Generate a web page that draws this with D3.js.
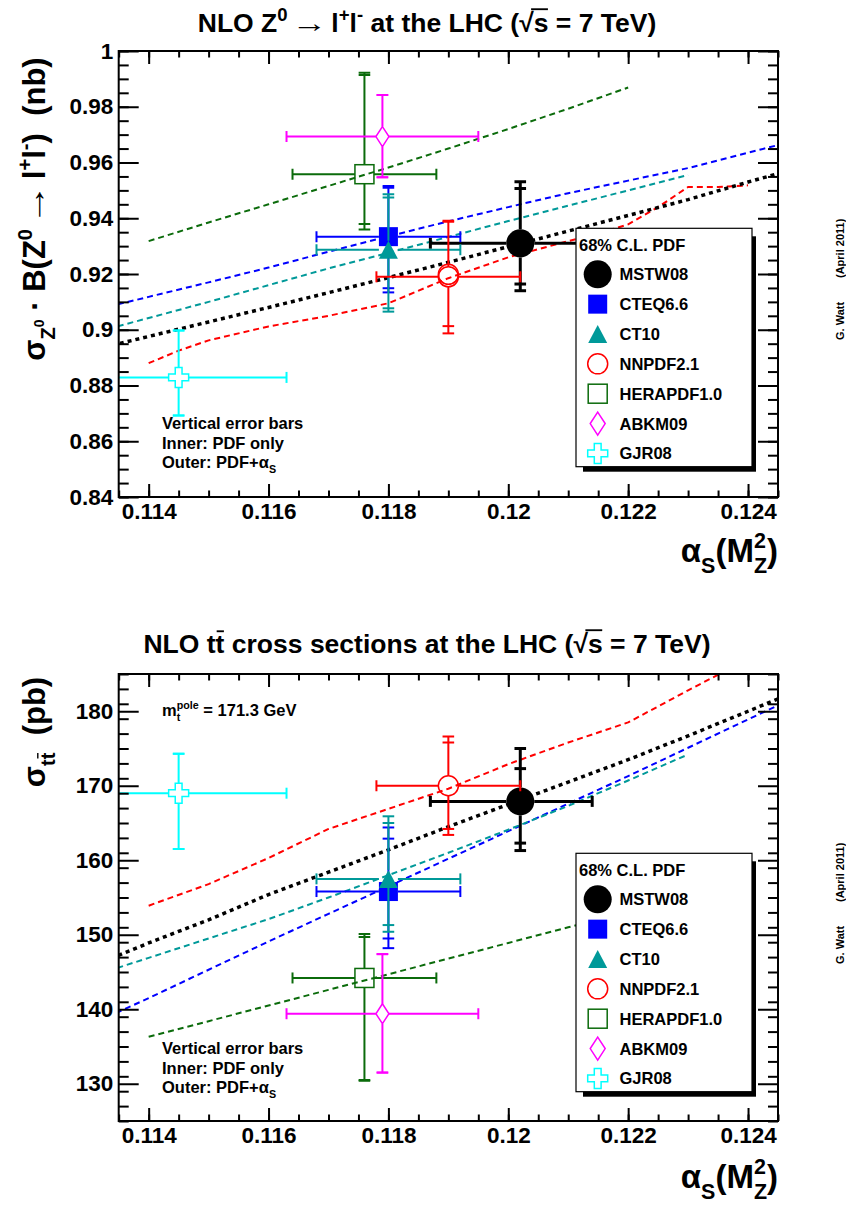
<!DOCTYPE html>
<html><head><meta charset="utf-8">
<script src="https://cdn.jsdelivr.net/npm/d3@7"></script>
<style>
body{margin:0;background:#fff}
text{font-family:"Liberation Sans",Arial,Helvetica,sans-serif;font-weight:bold;white-space:pre}
</style>
</head><body>
<svg id="c" width="846" height="1205" xmlns="http://www.w3.org/2000/svg"></svg>
<script>
// ---------------- DATA ----------------
const pdfNames   = ["MSTW08","CTEQ6.6","CT10","NNPDF2.1","HERAPDF1.0","ABKM09","GJR08"];
const pdfColors  = ["#000000","#0000ff","#009999","#ff0000","#0b6b0b","#ff00ff","#00ffff"];
const pdfMarkers = ["circleFilled","squareFilled","triangleFilled","circleOpen","squareOpen","diamondOpen","crossOpen"];

// alpha_S central values and 68% C.L. ranges
const alphaS   = [0.1202, 0.1180, 0.1180, 0.1190, 0.1176, 0.1179, 0.1145];
const alphaSLo = [0.1187, 0.1168, 0.1168, 0.1178, 0.1164, 0.1163, 0.1127];
const alphaSHi = [0.1214, 0.1192, 0.1192, 0.1202, 0.1188, 0.1195, 0.1163];

// Z0 -> l+l- (nb)
const zCentral      = [0.9310, 0.9334, 0.9287, 0.9190, 0.9558, 0.9693, 0.8829];
const zInnerCentral = [0.9310, 0.9334, 0.9287, 0.9199, 0.9558, 0.9693, 0.8829];
const zInnerLo      = [0.9164, 0.9149, 0.9077, 0.9013, 0.9379, 0.9547, 0.8692];
const zInnerHi      = [0.9507, 0.9509, 0.9474, 0.9387, 0.9914, 0.9842, 0.8997];
const zOuterLo      = [0.9140, 0.9134, 0.9065, 0.8987, 0.9360, 0.9547, 0.8692];
const zOuterHi      = [0.9531, 0.9516, 0.9486, 0.9391, 0.9922, 0.9842, 0.8997];

// ttbar (pb)
const ttCentral      = [167.9, 155.8, 157.5, 170.0, 144.2, 139.4, 169.0];
const ttInnerCentral = [167.9, 155.8, 157.5, 170.0, 144.2, 139.4, 169.0];
const ttInnerLo      = [162.3, 149.5, 151.3, 164.2, 130.5, 131.5, 161.5];
const ttInnerHi      = [172.3, 162.9, 165.0, 175.8, 149.7, 147.4, 174.3];
const ttOuterLo      = [161.3, 148.2, 150.4, 163.4, 130.4, 131.5, 161.5];
const ttOuterHi      = [175.0, 164.4, 165.9, 176.6, 150.1, 147.4, 174.3];

// alpha_S grids of the cross-section curves
const gridFull  = [0.113,0.114,0.115,0.116,0.117,0.118,0.119,0.120,0.121,0.122,0.123,0.124,0.125];
const gridTeal  = [0.113,0.114,0.115,0.116,0.117,0.118,0.119,0.120,0.121,0.122,0.123];
const gridGreen = [0.114,0.115,0.116,0.117,0.118,0.119,0.120,0.121,0.122];
const gridRedZ  = [0.114,0.1145,0.115,0.116,0.117,0.118,0.119,0.120,0.121,0.1215,0.122,0.1225,0.123,0.1235,0.124];
const gridRedTT = [0.114,0.115,0.116,0.117,0.118,0.119,0.120,0.121,0.122,0.123,0.124];

const zLineMSTW  = [0.8924,0.8976,0.9028,0.9080,0.9133,0.9187,0.9242,0.9298,0.9354,0.9410,0.9467,0.9530,0.9590];
const zLineCTEQ  = [0.9066,0.9118,0.9170,0.9223,0.9280,0.9335,0.9389,0.9440,0.9490,0.9535,0.9580,0.9635,0.9690];
const zLineCT10  = [0.8985,0.9042,0.9100,0.9160,0.9220,0.9276,0.9333,0.9390,0.9445,0.9500,0.9555];
const zLineHERA  = [0.9318,0.9385,0.9450,0.9516,0.9582,0.9650,0.9720,0.9793,0.9869];
const zLineNNPDF = [0.8880,0.8925,0.8962,0.9012,0.9050,0.9095,0.9185,0.9260,0.9318,0.9345,0.9378,0.9440,0.9512,0.9512,0.9518];

const ttLineMSTW  = [145.6,148.9,152.0,155.4,158.4,161.4,164.5,167.5,170.5,173.5,176.7,180.0,183.3];
const ttLineCTEQ  = [137.8,141.5,145.3,149.1,152.8,156.5,160.2,163.9,167.6,171.3,175.1,178.9,182.7];
const ttLineCT10  = [144.3,146.9,149.5,152.1,155.0,158.0,161.0,164.1,167.3,170.7,174.2];
const ttLineHERA  = [136.3,138.4,140.5,142.6,144.7,146.8,148.9,151.0,153.1];
const ttLineNNPDF = [153.9,156.8,160.3,164.2,166.9,169.6,172.9,175.8,178.5,182.8,187.0];

// ticks
const xTickVals   = [0.114,0.116,0.118,0.120,0.122,0.124];
const xTickLabels = ["0.114","0.116","0.118","0.12","0.122","0.124"];
const zTickVals   = [0.84,0.86,0.88,0.90,0.92,0.94,0.96,0.98,1.0];
const zTickLabels = ["0.84","0.86","0.88","0.9","0.92","0.94","0.96","0.98","1"];
const ttTickVals  = [130,140,150,160,170,180];
const ttTickLabels= ["130","140","150","160","170","180"];

// ---------------- DRAWING ----------------
const svg = d3.select("#c");
const LEFT = 118.7, RIGHT = 778;
const TICKFS = 22.5;

function rich(parent, runs, x, y, size, anchor, rotate, color) {
  const g = parent.append("g");
  const inner = g.append("g");
  let cx = 0, prevStart = 0;
  const bars = [];
  let lastRadEnd = null;
  runs.forEach(r => {
    const fs = size * (r.s || 1);
    const sx = r.sx || 1;
    cx += (r.pre || 0);
    const start = r.stack ? prevStart : cx;
    const by = (r.dy || 0) * size;
    const t = inner.append("text").attr("font-size", fs).attr("fill", color || "#000").text(r.t);
    if (sx !== 1) t.attr("transform", `translate(${start},${by}) scale(${sx},1)`);
    else t.attr("x", start).attr("y", by);
    const w = t.node().getComputedTextLength() * sx;
    if (r.bar) bars.push({x0: (r.fromRad && lastRadEnd != null) ? lastRadEnd : start + fs*0.04, x1: start + w - fs*0.02, y: by - fs*(r.barH || 0.80), sw: fs*0.07});
    if (r.rad) lastRadEnd = start + w*0.82;
    if (r.stack) cx = Math.max(cx, start + w);
    else { prevStart = start; cx = start + w; }
    cx += (r.post || 0);
  });
  bars.forEach(b => inner.append("line").attr("x1", b.x0).attr("x2", b.x1)
    .attr("y1", b.y).attr("y2", b.y).attr("stroke", color || "#000").attr("stroke-width", b.sw));
  const shift = anchor === "end" ? -cx : anchor === "middle" ? -cx/2 : 0;
  inner.attr("transform", `translate(${shift},0)`);
  g.attr("transform", `translate(${x},${y})` + (rotate ? ` rotate(${rotate})` : ""));
  return g;
}

const markerGap = {
  circleFilled:[14,14], squareFilled:[9.5,9.5], triangleFilled:[9.5,9],
  circleOpen:[10,10], squareOpen:[9.5,9.5], diamondOpen:[6.5,10], crossOpen:[10,10]
};

function drawMarker(g, type, cx, cy, color, k) {
  k = k || 1;
  if (type === "circleFilled") g.append("circle").attr("cx",cx).attr("cy",cy).attr("r",14*k).attr("fill",color);
  else if (type === "squareFilled") g.append("rect").attr("x",cx-9.5*k).attr("y",cy-9.5*k).attr("width",19*k).attr("height",19*k).attr("fill",color);
  else if (type === "triangleFilled") g.append("path").attr("d",`M${cx-9.5*k},${cy+9*k}L${cx+9.5*k},${cy+9*k}L${cx},${cy-9*k}Z`).attr("fill",color);
  else if (type === "circleOpen") g.append("circle").attr("cx",cx).attr("cy",cy).attr("r",10*k).attr("fill","none").attr("stroke",color).attr("stroke-width",1.5);
  else if (type === "squareOpen") g.append("rect").attr("x",cx-9.5*k).attr("y",cy-9.5*k).attr("width",19*k).attr("height",19*k).attr("fill","none").attr("stroke",color).attr("stroke-width",1.5);
  else if (type === "diamondOpen") g.append("path").attr("d",`M${cx},${cy-10*k}L${cx+6.5*k},${cy}L${cx},${cy+10*k}L${cx-6.5*k},${cy}Z`).attr("fill","none").attr("stroke",color).attr("stroke-width",1.5);
  else if (type === "crossOpen") {
    const s = 10*k, a = 3.4*k;
    g.append("path").attr("d",`M${cx-a},${cy-s}H${cx+a}V${cy-a}H${cx+s}V${cy+a}H${cx+a}V${cy+s}H${cx-a}V${cy+a}H${cx-s}V${cy-a}H${cx-a}Z`)
      .attr("fill","none").attr("stroke",color).attr("stroke-width",1.5);
  }
}

function drawPanel(p) {
  const x = d3.scaleLinear().domain([0.1135, 0.1245]).range([LEFT, RIGHT]);
  const y = d3.scaleLinear().domain(p.yDomain).range([p.bottom, p.top]);
  const clipId = "clip" + p.id;
  svg.append("clipPath").attr("id", clipId).append("rect")
    .attr("x", LEFT).attr("y", p.top).attr("width", RIGHT-LEFT).attr("height", p.bottom-p.top);
  const plot = svg.append("g").attr("clip-path", `url(#${clipId})`);

  // curves
  const line = d3.line().x(d => x(d[0])).y(d => y(d[1]));
  p.lines.forEach(L => {
    plot.append("path").datum(L.xs.map((v,i) => [v, L.ys[i]]))
      .attr("d", line).attr("fill","none").attr("stroke", L.color)
      .attr("stroke-width", L.w).attr("stroke-dasharray", L.dash);
  });

  // points with error bars
  for (let i = 0; i < pdfNames.length; i++) {
    const col = pdfColors[i], sw = i === 0 ? 3 : 2;
    const cx = x(alphaS[i]), cy = y(p.central[i]);
    const [gx, gy] = markerGap[pdfMarkers[i]];
    const g = plot.append("g").attr("stroke", col).attr("stroke-width", sw);
    g.append("line").attr("x1", x(alphaSLo[i])).attr("x2", cx-gx).attr("y1", cy).attr("y2", cy);
    g.append("line").attr("x1", cx+gx).attr("x2", x(alphaSHi[i])).attr("y1", cy).attr("y2", cy);
    [alphaSLo[i], alphaSHi[i]].forEach(v => g.append("line").attr("x1", x(v)).attr("x2", x(v)).attr("y1", cy-5.5).attr("y2", cy+5.5));
    g.append("line").attr("x1", cx).attr("x2", cx).attr("y1", y(p.outHi[i])).attr("y2", cy-gy);
    g.append("line").attr("x1", cx).attr("x2", cx).attr("y1", cy+gy).attr("y2", y(p.outLo[i]));
    [p.outLo[i], p.outHi[i], p.inLo[i], p.inHi[i]].forEach(v => g.append("line")
      .attr("x1", cx-5.8).attr("x2", cx+5.8).attr("y1", y(v)).attr("y2", y(v)));
    drawMarker(plot, pdfMarkers[i], cx, cy, col);
    if (p.innerCentral[i] !== p.central[i]) drawMarker(plot, pdfMarkers[i], cx, y(p.innerCentral[i]), col);
  }

  // axes (ticks inside frame)
  const xMinor = d3.range(0, 23).map(k => 0.1135 + k*0.0005);
  const yMinor = d3.range(p.yDomain[0], p.yDomain[1] + p.yMinor/2, p.yMinor);
  const ax = svg.append("g").attr("class","axes");
  const styleAxis = sel => { sel.select(".domain").remove(); sel.selectAll("line").attr("stroke-width", 2); };

  ax.append("g").attr("transform",`translate(0,${p.bottom})`)
    .call(d3.axisBottom(x).tickValues(xMinor).tickSize(-6.5).tickFormat("")).call(styleAxis);
  ax.append("g").attr("transform",`translate(0,${p.top})`)
    .call(d3.axisTop(x).tickValues(xMinor).tickSize(-6.5).tickFormat("")).call(styleAxis);
  ax.append("g").attr("transform",`translate(0,${p.top})`)
    .call(d3.axisTop(x).tickValues(xTickVals).tickSize(-13).tickFormat("")).call(styleAxis);
  const xb = ax.append("g").attr("transform",`translate(0,${p.bottom})`)
    .call(d3.axisBottom(x).tickValues(xTickVals).tickSize(-13).tickPadding(6)
      .tickFormat((d,i) => xTickLabels[i])).call(styleAxis);
  xb.selectAll("text").attr("font-size", TICKFS).attr("font-family", null);

  ax.append("g").attr("transform",`translate(${LEFT},0)`)
    .call(d3.axisLeft(y).tickValues(yMinor).tickSize(-10).tickFormat("")).call(styleAxis);
  ax.append("g").attr("transform",`translate(${RIGHT},0)`)
    .call(d3.axisRight(y).tickValues(yMinor).tickSize(-10).tickFormat("")).call(styleAxis);
  ax.append("g").attr("transform",`translate(${RIGHT},0)`)
    .call(d3.axisRight(y).tickValues(p.yTicks).tickSize(-20).tickFormat("")).call(styleAxis);
  const yl = ax.append("g").attr("transform",`translate(${LEFT},0)`)
    .call(d3.axisLeft(y).tickValues(p.yTicks).tickSize(-20).tickPadding(5.5)
      .tickFormat((d,i) => p.yLabels[i])).call(styleAxis);
  yl.selectAll("text").attr("font-size", TICKFS).attr("font-family", null);

  svg.append("rect").attr("x", LEFT).attr("y", p.top).attr("width", RIGHT-LEFT)
    .attr("height", p.bottom-p.top).attr("fill","none").attr("stroke","#000").attr("stroke-width",2);

  // legend with shadow
  const lx = 576, ly = p.legTop, lw = 176, lh = 238.4;
  svg.append("rect").attr("x", lx+7).attr("y", ly+8).attr("width", lw-3).attr("height", lh-3).attr("fill","#000");
  svg.append("rect").attr("x", lx).attr("y", ly).attr("width", lw).attr("height", lh)
    .attr("fill","#fff").attr("stroke","#000").attr("stroke-width",1.2);
  svg.append("text").attr("x", lx+3).attr("y", ly+22.5).attr("font-size",16.5).text("68% C.L. PDF");
  pdfNames.forEach((nm, i) => {
    const cy = ly + 46 + i*29.85;
    drawMarker(svg, pdfMarkers[i], lx+21.7, cy, pdfColors[i], pdfMarkers[i]==="diamondOpen" ? 1.15 : 1);
    svg.append("text").attr("x", lx+43.5).attr("y", cy+6).attr("font-size",16.5).text(nm);
  });

  // note
  const nb = p.noteTop;
  rich(svg, [{t:"Vertical error bars"}], 162, nb, 16.5, "start");
  rich(svg, [{t:"Inner: PDF only"}], 162, nb+19.5, 16.5, "start");
  rich(svg, [{t:"Outer: PDF+α"},{t:"S",s:.65,dy:.3}], 162, nb+39, 16.5, "start");

  // x title
  rich(svg, [{t:"α"},{t:"S",s:.65,dy:.32},{t:"(M"},{t:"2",s:.65,dy:-.42},{t:"Z",s:.65,dy:.32,stack:true},{t:")"}],
    RIGHT, p.xTitleY, 33, "end");

  // credit
  svg.append("text").attr("font-size",11).attr("transform",`translate(844,${p.creditY}) rotate(-90)`).text("G. Watt");
  svg.append("text").attr("font-size",11).attr("transform",`translate(844,${p.creditY-62}) rotate(-90)`).text("(April 2011)");
}

const panelZ = {
  id:"Z", top:51, bottom:497, yDomain:[0.84,1.0], yTicks:zTickVals, yLabels:zTickLabels, yMinor:0.005,
  central:zCentral, innerCentral:zInnerCentral, inLo:zInnerLo, inHi:zInnerHi, outLo:zOuterLo, outHi:zOuterHi,
  legTop:228.3, noteTop:429, xTitleY:562, creditY:340,
  lines:[
    {xs:gridGreen, ys:zLineHERA,  color:pdfColors[4], w:2, dash:"6,4"},
    {xs:gridFull,  ys:zLineCTEQ,  color:pdfColors[1], w:2, dash:"6,4"},
    {xs:gridTeal,  ys:zLineCT10,  color:pdfColors[2], w:2, dash:"6,4"},
    {xs:gridRedZ,  ys:zLineNNPDF, color:pdfColors[3], w:2, dash:"6,4"},
    {xs:gridFull,  ys:zLineMSTW,  color:pdfColors[0], w:3.5, dash:"4,4"}
  ]
};
const panelTT = {
  id:"T", top:674, bottom:1121, yDomain:[125,185], yTicks:ttTickVals, yLabels:ttTickLabels, yMinor:2,
  central:ttCentral, innerCentral:ttInnerCentral, inLo:ttInnerLo, inHi:ttInnerHi, outLo:ttOuterLo, outHi:ttOuterHi,
  legTop:853.3, noteTop:1054, xTitleY:1188, creditY:964,
  lines:[
    {xs:gridGreen, ys:ttLineHERA,  color:pdfColors[4], w:2, dash:"6,4"},
    {xs:gridFull,  ys:ttLineCTEQ,  color:pdfColors[1], w:2, dash:"6,4"},
    {xs:gridTeal,  ys:ttLineCT10,  color:pdfColors[2], w:2, dash:"6,4"},
    {xs:gridRedTT, ys:ttLineNNPDF, color:pdfColors[3], w:2, dash:"6,4"},
    {xs:gridFull,  ys:ttLineMSTW,  color:pdfColors[0], w:3.5, dash:"4,4"}
  ]
};
drawPanel(panelZ);
drawPanel(panelTT);

// titles
rich(svg, [{t:"NLO Z"},{t:"0",s:.7,dy:-.42},{t:"→",sx:1.35,pre:4,post:4},{t:"l"},{t:"+",s:.7,dy:-.42},{t:"l"},{t:"-",s:.7,dy:-.42},
  {t:" at the LHC ("},{t:"√",rad:true},{t:"s",bar:true,fromRad:true,barH:0.86},{t:" = 7 TeV)"}], 427, 32, 26.5, "middle");
rich(svg, [{t:"NLO t"},{t:"t",bar:true,barH:0.82},{t:" cross sections at the LHC ("},{t:"√",rad:true},
  {t:"s",bar:true,fromRad:true,barH:0.86},{t:" = 7 TeV)"}], 427, 653, 26.5, "middle");

// y titles
rich(svg, [{t:"σ"},{t:"Z",s:.65,dy:.32},{t:"0",s:.45,dy:-.02},{t:" · B(Z"},{t:"0",s:.65,dy:-.42},{t:"→",sx:1.35,pre:4,post:4},{t:"l"},
  {t:"+",s:.65,dy:-.42},{t:"l"},{t:"-",s:.65,dy:-.42},{t:")  (nb)"}], 45, 209, 31, "middle", -90);
rich(svg, [{t:"σ"},{t:"t",s:.65,dy:.32},{t:"t",s:.65,dy:.32,bar:true,barH:0.85},{t:"  (pb)"}], 45, 732, 31, "middle", -90);

// m_t label
rich(svg, [{t:"m"},{t:"pole",s:.65,dy:-.42},{t:"t",s:.65,dy:.32,stack:true},{t:" = 171.3 GeV"}], 162, 716, 16.5, "start");
</script>
</body></html>
